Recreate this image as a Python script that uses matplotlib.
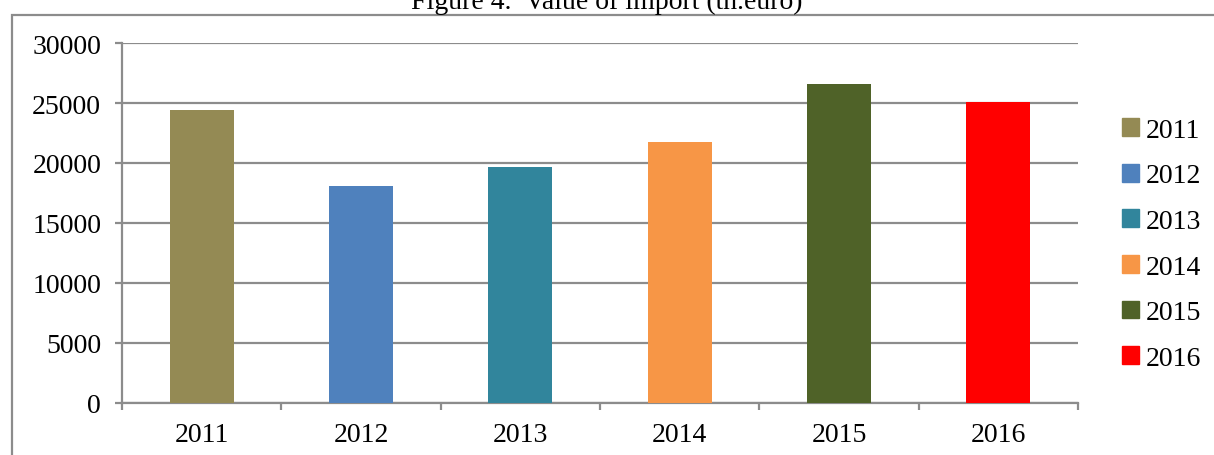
import matplotlib.pyplot as plt
import matplotlib.patches as patches
import numpy as np

years = ['2011', '2012', '2013', '2014', '2015', '2016']
values = [24400, 18100, 19700, 21750, 26550, 25050]
colors = ['#948A54', '#4F81BD', '#31859C', '#F79646', '#4F6228', '#FF0000']

plt.rcParams['font.family'] = ['Liberation Serif', 'DejaVu Serif']

fig = plt.figure(figsize=(12.14, 4.56), dpi=100)
ax = fig.add_axes([122 / 1214, 1 - 404 / 456, 956 / 1214, 360 / 456])

grid_col = '#8C8C8C'
x = np.arange(len(years))
bars = ax.bar(x, values, width=0.4, color=colors, zorder=3, label=years)

ax.set_xlim(-0.5, len(years) - 0.5)
ax.set_ylim(0, 30000)
ax.set_yticks(np.arange(0, 30001, 5000))
ax.yaxis.grid(True, color=grid_col, linewidth=1.6, zorder=0)

ax.set_xticks(x)
ax.set_xticklabels(years)
ax.set_xticks(np.arange(-0.5, len(years)), minor=True)
ax.tick_params(axis='x', which='major', length=0, pad=14, labelsize=20)
ax.tick_params(axis='x', which='minor', length=5, width=1.6, color=grid_col, direction='out')
ax.tick_params(axis='y', length=5, width=1.6, color=grid_col, pad=10, labelsize=20)

for side in ['top', 'right']:
    ax.spines[side].set_visible(False)
for side in ['left', 'bottom']:
    ax.spines[side].set_color(grid_col)
    ax.spines[side].set_linewidth(1.6)

# legend
handles = [patches.Patch(color=c) for c in colors]
fig.legend(handles, years, loc='center left', bbox_to_anchor=(1108 / 1214, 0.462),
           frameon=False, fontsize=20, handlelength=0.6, handleheight=0.6,
           handletextpad=0.25, labelspacing=0.74, borderpad=0)

# outer frame of the figure box
frame = patches.Rectangle((12 / 1214, -0.1), 1.2, 1 - 16 / 456 + 0.1,
                          transform=fig.transFigure, fill=False,
                          edgecolor='#8C8C8C', linewidth=1.6)
fig.add_artist(frame)

fig.text(0.5, 1 - 9 / 456, 'Figure 4.  Value of import (th.euro)', ha='center',
         va='baseline', fontsize=20)

fig.savefig('out.png', dpi=100)
